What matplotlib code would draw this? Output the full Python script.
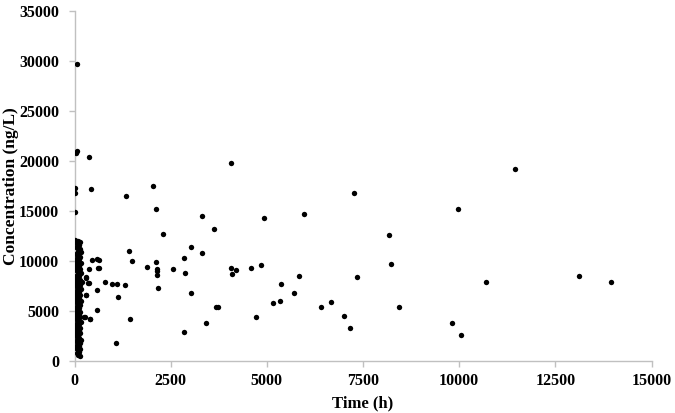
import matplotlib
matplotlib.use('Agg')
import matplotlib.pyplot as plt

# scattered samples (time in h, concentration in ng/L)
time_h = [73, 30, 73, 370, 0, 0, 437, 1350, 2040, 15, 2130, 2310, 1420, 1500,
          455, 577, 637, 385, 630, 2120, 1890, 2140, 2140, 2145, 2550, 2160,
          290, 377, 793, 983, 1113, 1320, 577, 1140, 290, 577, 1450, 255, 410,
          1090, 4060, 3310, 4930, 5970, 7270, 3630, 3020, 3315, 2840, 4080,
          4210, 4590, 4860, 2865, 4090, 5835, 7345, 8185, 8220, 5380, 3020,
          5710, 5170, 5335, 6680, 3690, 3730, 6420, 8445, 7015, 3410, 4730,
          7170, 2840, 11445, 9970, 10710, 13110, 13950, 9810, 10040, 620, 300,
          360, 307, 273, 403]
conc = [29740, 20850, 20990, 20390, 17300, 16860, 17200, 16500, 17560, 14900,
        15200, 12700, 11060, 10070, 10140, 10270, 10140, 9210, 9310, 9900,
        9410, 9200, 9070, 8610, 9210, 7340, 8400, 7810, 7940, 7740, 7740, 7670,
        7140, 6410, 6610, 5140, 4280, 4470, 4280, 1820, 19790, 14500, 14300,
        14760, 16800, 13200, 11460, 10830, 10370, 9340, 9170, 9310, 9670, 8810,
        8770, 8510, 8440, 12660, 9770, 7710, 6870, 6810, 5870, 6070, 5970,
        5440, 5440, 5410, 5470, 4570, 3840, 4410, 3350, 2950, 19220, 15260,
        7910, 8570, 7970, 3840, 2680, 9370, 8340, 7870, 6670, 4440, 4210]

# dense early sampling column
early_t = [20, 90, 150, 60, 110, 40, 130, 80, 170, 30, 100, 140, 60, 120, 20,
           90, 160, 50, 110, 70, 140, 30, 100, 180, 60, 120, 20, 90, 150, 50,
           110, 200, 70, 130, 30, 100, 160, 60, 120, 20, 90, 140, 50, 110, 70,
           170, 30, 100, 130, 60, 120, 20, 90, 150, 50, 110, 70, 140, 30, 100,
           160, 60, 120, 20, 90, 130, 50, 110, 70, 150, 30, 100, 60, 120, 160,
           40, 90, 130, 70, 110, 50, 150, 90, 120, 70, 100, 130, 10, 45, 25]
early_c = [12100, 12050, 11900, 11800, 11600, 11400, 11200, 11050, 10900,
           10750, 10600, 10450, 10300, 10200, 10050, 9950, 9800, 9650, 9500,
           9350, 9250, 9100, 8950, 8800, 8650, 8550, 8400, 8250, 8150, 8050,
           7950, 7900, 7800, 7650, 7500, 7400, 7250, 7100, 6950, 6850, 6700,
           6600, 6450, 6300, 6150, 6050, 5950, 5800, 5650, 5500, 5350, 5200,
           5050, 4950, 4800, 4650, 4500, 4400, 4250, 4100, 3950, 3800, 3700,
           3550, 3450, 3300, 3200, 3050, 2950, 2800, 2700, 2550, 2400, 2300,
           2150, 2050, 1950, 1800, 1650, 1500, 1350, 1250, 1100, 950, 800, 650,
           500, 8000, 3500, 11950]

plt.rcParams['font.family'] = ['Liberation Serif', 'DejaVu Serif']
plt.rcParams['font.weight'] = 'bold'

fig = plt.figure(figsize=(6.75, 4.13), dpi=100)
ax = fig.add_axes([0.1104, 0.1247, 0.8548, 0.8487])

ax.scatter(time_h + early_t, conc + early_c, s=15, color='black', linewidths=0, zorder=3)

ax.set_xlim(0, 15000)
ax.set_ylim(0, 35000)
ax.set_xticks(range(0, 15001, 2500))
ax.set_yticks(range(0, 35001, 5000))

for side in ['top', 'right']:
    ax.spines[side].set_visible(False)
for side in ['left', 'bottom']:
    ax.spines[side].set_color('#c0c0c0')
    ax.spines[side].set_linewidth(1.0)

ax.tick_params(axis='both', direction='out', length=4, width=1, color='#c0c0c0',
               labelsize=11.5)
ax.tick_params(axis='y', pad=7)
ax.tick_params(axis='x', pad=4)
for lab in ax.get_xticklabels() + ax.get_yticklabels():
    lab.set_fontweight('bold')

ax.set_xlabel('Time (h)', fontsize=12, fontweight='bold', labelpad=5)
ax.set_ylabel('Concentration (ng/L)', fontsize=12.5, fontweight='bold', labelpad=0)

fig.savefig('out.png', dpi=100)
